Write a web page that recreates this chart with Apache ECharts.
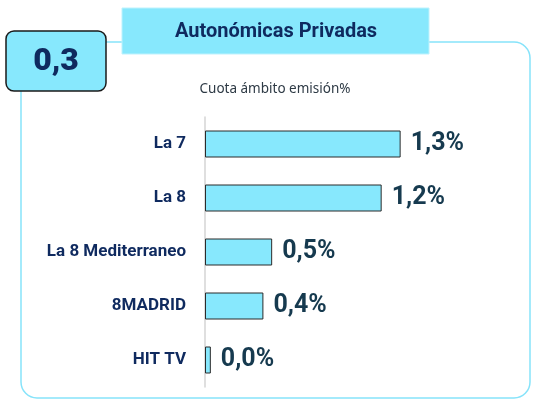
<!DOCTYPE html>
<html>
<head>
<meta charset="utf-8">
<script src="https://cdn.jsdelivr.net/npm/echarts@6/dist/echarts.min.js"></script>
<style>
  html, body { margin: 0; padding: 0; background: #ffffff; }
  #main { width: 537px; height: 401px; }
</style>
</head>
<body>
<div id="main"></div>
<script>
    // datos del grafico
    var canales = ['La 7', 'La 8', 'La 8 Mediterraneo', '8MADRID', 'HIT TV'];
    var cuota = [1.34, 1.21, 0.46, 0.40, 0.04];
    var totalAmbito = '0,3';
    var titulo = 'Autonómicas Privadas';
    var subtitulo = 'Cuota ámbito emisión%';

    var cian = '#87e8fd';
    var navy = '#0f2a5f';

    var myChart = echarts.init(document.getElementById('main'));

    myChart.setOption({
        animation: false,
        backgroundColor: '#ffffff',
        grid: { left: 205, right: 40, top: 117, bottom: 14 },
        xAxis: {
            type: 'value',
            min: 0,
            max: 2,
            show: false
        },
        yAxis: {
            type: 'category',
            inverse: true,
            data: canales,
            axisLine: { show: true, lineStyle: { color: '#d4d4d4', width: 1.5 } },
            axisTick: { show: false },
            axisLabel: {
                margin: 19,
                color: navy,
                fontFamily: 'Roboto',
                fontWeight: 'bold',
                fontSize: 17
            }
        },
        series: [{
            type: 'bar',
            data: cuota,
            barWidth: 27,
            itemStyle: { color: cian, borderColor: '#2b2b2b', borderWidth: 1 },
            label: {
                show: true,
                position: 'right',
                distance: 10,
                color: '#163a4f',
                fontFamily: 'Roboto',
                fontWeight: 'bold',
                fontSize: 25,
                formatter: function (p) {
                    return p.value.toFixed(1).replace('.', ',') + '%';
                }
            }
        }],
        graphic: [
            // marco exterior
            {
                type: 'rect', z: 1,
                shape: { x: 21, y: 42, width: 509, height: 356, r: 16 },
                style: { fill: 'none', stroke: '#86e3fa', lineWidth: 1.5 }
            },
            // caja del titulo
            {
                type: 'rect', z: 5,
                shape: { x: 122, y: 8, width: 307, height: 46 },
                style: { fill: cian, stroke: '#bdf2fd', lineWidth: 1 }
            },
            {
                type: 'text', z: 6,
                x: 276, y: 32,
                style: {
                    text: titulo, fill: navy,
                    font: 'bold 20px Roboto',
                    align: 'center', verticalAlign: 'middle'
                }
            },
            // caja del total
            {
                type: 'rect', z: 5,
                shape: { x: 6, y: 31, width: 100, height: 60, r: 8 },
                style: { fill: cian, stroke: '#1a1a1a', lineWidth: 1.5 }
            },
            {
                type: 'text', z: 6,
                x: 56, y: 62,
                style: {
                    text: totalAmbito, fill: navy,
                    font: '900 32px Roboto',
                    align: 'center', verticalAlign: 'middle'
                }
            },
            // subtitulo
            {
                type: 'text', z: 6,
                x: 275, y: 89,
                style: {
                    text: subtitulo, fill: '#2e3a45',
                    font: '13.5px "Noto Sans"',
                    align: 'center', verticalAlign: 'middle'
                }
            }
        ]
    });
</script>
</body>
</html>
